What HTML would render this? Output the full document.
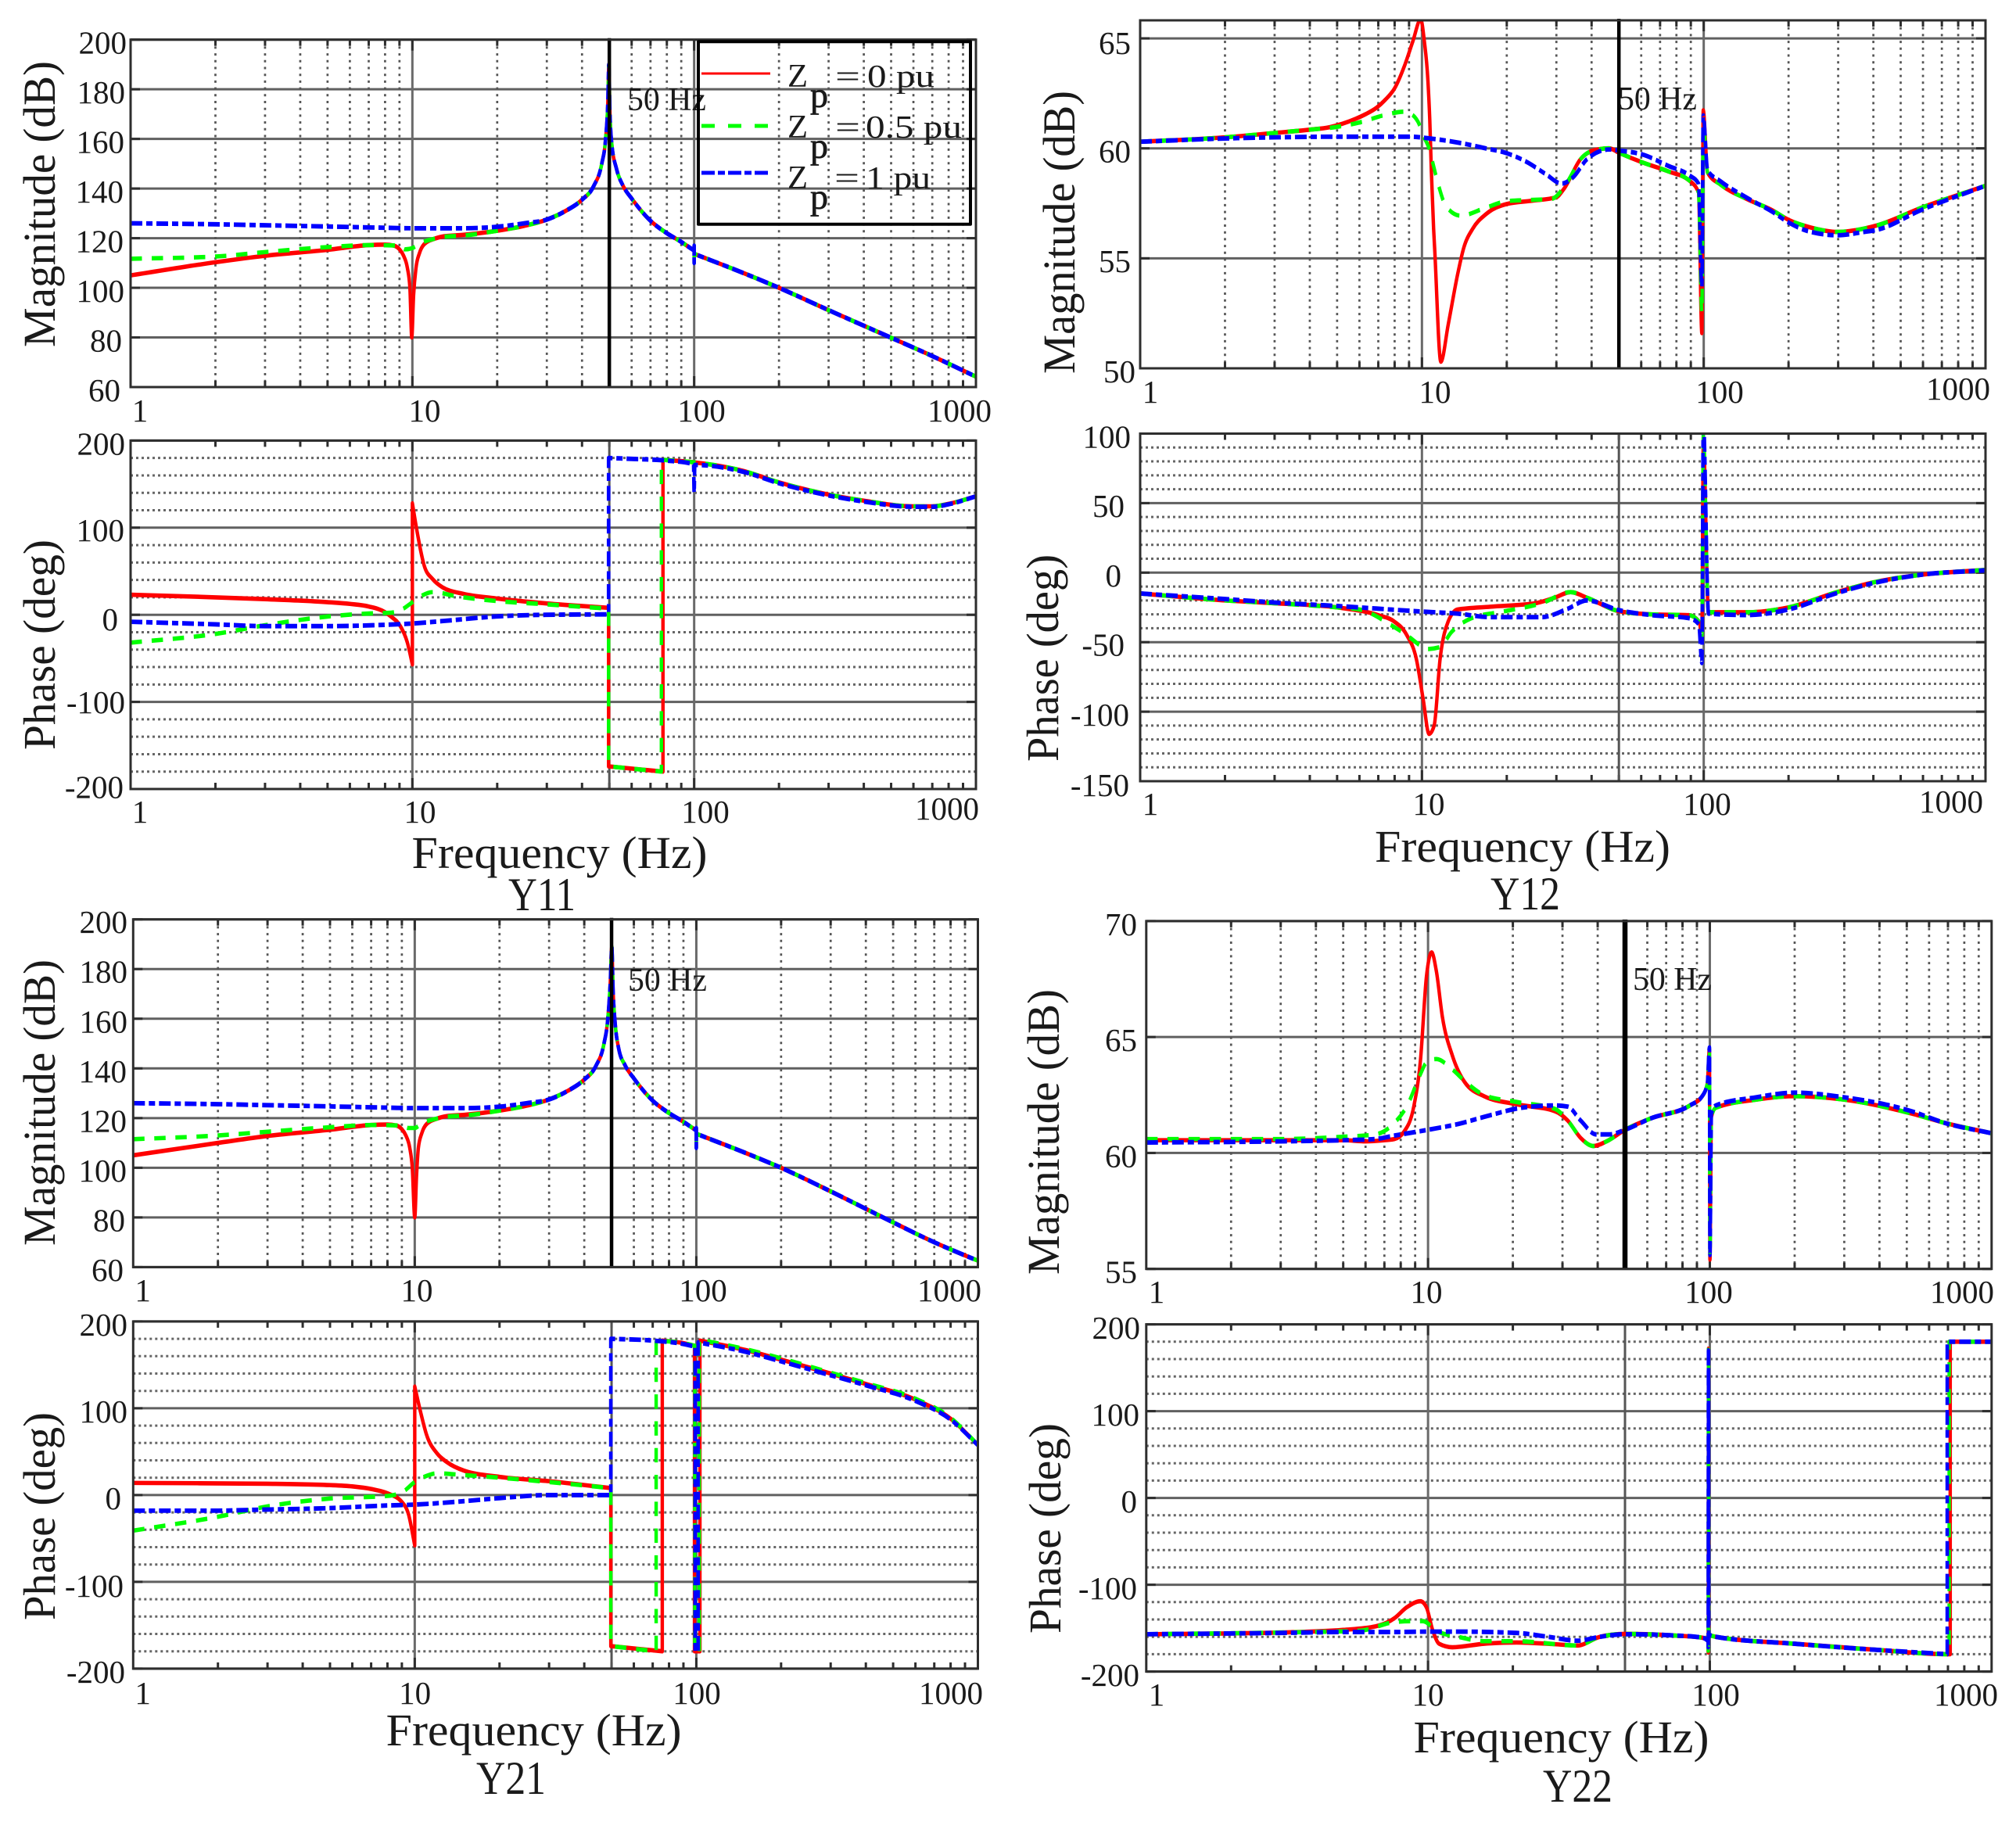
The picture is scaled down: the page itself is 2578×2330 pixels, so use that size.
<!DOCTYPE html>
<html>
<head>
<meta charset="utf-8">
<title>Admittance Bode plots</title>
<style>
html,body{margin:0;padding:0;background:#fff;}
#chart{display:block;width:2578px;height:2330px;}
text{font-family:"Liberation Serif",serif;fill:#1a1a1a;}
</style>
</head>
<body>
<svg id="chart" xmlns="http://www.w3.org/2000/svg" width="2578" height="2330" viewBox="0 0 2578 2330"></svg>
<script>
// ---------- Y11 magnitude ----------
const y11MagTailF=[20,25,30,35,40,44,47,48.5,49.4,49.8,50.2,51,53,56,60,70,80,90,97,100,100,100,100,150,200,300,486,700,1000];
const y11MagTailV=[123,125,127.5,131,135.5,141,150,160,175,190,172,158,148,141,136,127,122,118.5,116,115,110,117,113.7,105.9,100,91,80.5,72.5,64.2];
const y11MagRedF=[1,2,3,5,7,8,8.6,9,9.3,9.6,9.8,9.95,10.1,10.3,10.6,11,12,13,15].concat(y11MagTailF);
const y11MagRedV=[105,110.3,112.9,115.3,117.2,117.4,117,115.5,113,108,100,80,97,108,114,117.5,119.8,120.8,121.3].concat(y11MagTailV);
const y11MagGreenF=[1,2,3,5,7,9,9.4,10,10.5,11,12,13,15].concat(y11MagTailF);
const y11MagGreenV=[111.7,112.6,114.4,116.4,117.2,117,115.5,116,117.5,118.6,119.8,120.6,121].concat(y11MagTailV);
const y11MagBlueF=[1,2,3,5,8,10,15,20,25].concat(y11MagTailF.slice(2));
const y11MagBlueV=[126,125.6,125.2,124.7,124.2,124,124,124.6,126].concat(y11MagTailV.slice(2));
// ---------- Y11 phase ----------
const y11PhaseTailF=[100,150,200,300,400,600,700,817,1000];
const y11PhaseTailV=[175,165,152,138,131,124.5,124.5,128,136];
const y11PhaseRedF=[1,3,5,6,7,8,8.4,9.1,9.6,10,10,10.36,11.05,11.8,12.8,15.2,19.6,30,49.7,49.7,77.5,77.5].concat(y11PhaseTailF);
const y11PhaseRedV=[23,18,14.5,12.5,9.5,3,-2,-14,-32,-57,128,98,55,41,31.5,24,19,13,8,-174,-180,178].concat(y11PhaseTailV);
const y11PhaseGreenF=[1,2,3,5,7,8.4,9.1,10,10.8,11.8,14.5,19.6,30,49.7,49.7,76.5,76.5].concat(y11PhaseTailF);
const y11PhaseGreenV=[-32,-22,-12,-2,1.5,2.4,5.4,14.4,22,26,21,16,12,7,-174,-180,178].concat(y11PhaseTailV);
const y11PhaseBlueF=[1,2,3,5,8,10,13,19.6,30,49.7,49.7,60,80,99.5,100,100.5,150,200,300,400,600,700,817,1000];
const y11PhaseBlueV=[-8,-11,-13,-13,-11.5,-10,-7,-2,0,0.5,180,179,177,173,140,172,164,151,137,130,124,124,127.5,136];
// ---------- Y12 magnitude ----------
const y12MagTailF=[50,60.6,75,89,95.8,98.5,99.6,103.2,114.8,142,176,200,240,299,370,413,592,1000];
const y12MagRedF=[1,2,3,4,4.69,5.81,6.3,6.89,7.4,8,8.7,9.28,9.9,10.2,10.5,10.66,10.8,11,11.1,11.67,12.4,13.4,14.06,15.15,16.85,20,24.7,29.9,32,36.5,40.5,46.2].concat(y12MagTailF);
const y12MagRedV=[60.3,60.5,60.7,60.85,60.96,61.34,61.55,61.84,62.2,62.73,63.8,64.86,65.86,64.86,63.08,61.3,58.95,56.35,55.4,50.3,52,54.3,55.46,56.35,57,57.47,57.62,57.77,58.18,59.5,59.9,60,59.8,59.36,58.95,58.53,58,51.6,61.73,58.9,58.35,57.7,57.17,56.75,56.4,56.2,56.35,56.5,57.3,58.3];
const y12MagGreenF=[1,2,3,4,4.9,6.1,7.3,8.7,9.2,9.8,10.1,10.66,10.9,11.35,12.2,13.7,16.85,20,23.7,28.8,32.9,36.5,40.5,46.2].concat(y12MagTailF);
const y12MagGreenV=[60.3,60.5,60.7,60.85,60.96,61.2,61.5,61.67,61.55,61.07,60.6,59.9,59.4,58.5,57.35,56.94,57.3,57.6,57.65,57.7,58.5,59.5,59.9,60,59.8,59.36,58.95,58.53,58,52.5,61.1,58.9,58.35,57.7,57.17,56.75,56.4,56.2,56.35,56.5,57.3,58.3];
const y12MagBlueF=[1,2,3,5,9,11,13.6,16.85,20,23.7,27.5,31.3,34.5,38.5,46.2].concat(y12MagTailF);
const y12MagBlueV=[60.3,60.45,60.5,60.53,60.53,60.43,60.25,60,59.78,59.36,58.83,58.4,58.7,59.5,59.95,59.9,59.72,59.2,58.77,58.4,53.7,61.5,59,58.5,57.76,57.1,56.63,56.2,56.05,56.2,56.3,57.2,58.3];
// ---------- Y12 phase ----------
const y12PhaseRedF=[1,2,3,5,7,7.95,8.84,9.55,10.1,10.6,11.05,11.6,12.4,13.4,17.5,25.3,29.6,33.7,38.5,50,65,88.5,96,98.5,99.7,104,142,200,297,400,592,1000];
const y12PhaseRedV=[-15,-20,-22,-25,-30.6,-35,-45,-62,-91,-116,-110,-62,-35,-26.5,-24.5,-22,-18,-14,-18,-27.7,-30,-30.6,-35,-42,95,-28.5,-28.5,-25,-14,-7,-1.5,2];
const y12PhaseGreenF=[1,2,3,5,6,7.95,8.84,9.8,10.35,11.6,12.7,14.9,19.4,26.6,33.7,38.5,50,65,88.5,96,98.5,99.7,104,142,200,297,400,592,1000];
const y12PhaseGreenV=[-15,-20,-22,-25,-26.5,-39,-45,-52,-55,-53.5,-43,-33,-28,-22,-14,-18,-27.7,-30,-30.6,-35,-45,100,-28.5,-28.5,-25,-14,-7,-1.5,2];
const y12PhaseBlueF=[1,2,3,5,10,13.4,17.5,26.6,32.9,38.5,50,65,88.5,96,98.5,99.7,104,142,200,297,400,592,1000];
const y12PhaseBlueV=[-15,-19,-21.5,-24,-28,-29.5,-32,-32,-26,-20,-27,-30.5,-32.7,-37,-65,110,-29.5,-30.5,-26.5,-14.7,-7.5,-1.5,1.7];
// ---------- Y21 magnitude ----------
const y21MagTailF=[20,25,30,35,40,44,47,48.5,49.5,50.1,50.6,51.5,53,56,60,70,80,90,97,100,100,100,100,150,200,300,500,700,900,1000];
const y21MagTailV=[123,125,127.5,131,135.5,141,150,160,175,189,172,158,148,141,136,127,122,118.5,116,115,108,116,113.7,105.9,100,90.5,78,70,64.7,62.6];
const y21MagRedF=[1,2,3,5,7,8,8.6,9,9.3,9.6,9.8,10,10.15,10.3,10.6,11,12,13,15].concat(y21MagTailF);
const y21MagRedV=[105,110,112.8,115.3,117.2,117.4,117,115.5,113,108,100,80,97,108,114,117.5,119.8,120.8,121.3].concat(y21MagTailV);
const y21MagGreenF=[1,2,3,5,7,9,9.5,10,10.5,11,12,13,15].concat(y21MagTailF);
const y21MagGreenV=[111.5,113,114.5,116.3,117.2,117,116,116,117.5,118.6,119.8,120.6,121].concat(y21MagTailV);
const y21MagBlueF=[1,2,3,5,8,10,15,20,25].concat(y21MagTailF.slice(2));
const y21MagBlueV=[126,125.6,125.2,124.7,124.2,124,124,124.6,126].concat(y21MagTailV.slice(2));
// ---------- Y21 phase ----------
const y21PhaseRedF=[1,3,5,6,7,8,9,9.5,10,10,10.5,11,12,13,15,20,30,49.7,49.7,75.7,75.7,90,98.5,98.5,103,103,150,200,300,400,600,800,1000];
const y21PhaseRedV=[14,13,11.5,10,7,2,-8,-22,-58,125,95,70,48,38,28,21,16,8,-174,-180,178,175,172,-180,-180,178,167,156,140,128,110,88,58];
const y21PhaseGreenF=[1,2,3,5,8,9,10,11,12,15,20,30,49.7,49.7,72,72,90,98.7,98.7,102.5,102.5,150,200,300,400,600,800,1000];
const y21PhaseGreenV=[-41,-25,-13,-4,-1,3,15,22,25,23,20,15,8,-174,-180,178,175,172,-180,-180,179,168,157.5,141,129,111,89,58];
const y21PhaseBlueF=[1,2,2.7,5,8,10,15,20,30,49.7,49.7,70,90,99,99,101.5,101.5,150,200,300,400,600,800,1000];
const y21PhaseBlueV=[-18,-18,-17,-15,-12,-11,-7,-3.5,0,0,180,178,174,171,-180,-180,176,165,154,138,126.5,108.5,87,57.5];
// ---------- Y22 magnitude ----------
const y22MagTailF=[50,62,85,94,98,99.7,100.1,101.3,105,146,200,300,520,680,1000];
const y22MagRedF=[1,3,5,6,7,7.6,8.2,8.9,9.4,9.87,10.3,10.7,11.25,12.2,13.5,15.8,20.6,28.2,31.3,34.8,38.6,43].concat(y22MagTailF);
const y22MagRedV=[60.55,60.55,60.55,60.5,60.55,60.6,60.9,62,64,67.6,68.65,67.85,65.85,64.2,63.05,62.45,62.1,61.8,61.4,60.65,60.3,60.5,61,61.5,62.05,62.45,63,64.5,55.4,61.55,61.95,62.3,62.45,62.3,61.7,61.3,60.85];
const y22MagGreenF=[1,3,5,6.5,7.6,8.4,9.4,9.87,10.7,12.2,13.5,15.8,20.6,28.2,31.3,34.8,38.6,43].concat(y22MagTailF);
const y22MagGreenV=[60.6,60.6,60.7,60.8,61.3,62,63.4,63.9,64.05,63.6,63.1,62.5,62.2,61.9,61.4,60.65,60.3,60.5,61,61.5,62.05,62.45,63,64.5,55.5,61.55,61.95,62.3,62.45,62.3,61.7,61.3,60.85];
const y22MagBlueF=[1,3,5,6.5,7.6,10,12.8,16.3,21.5,28.2,31.3,34.8,39.5,44].concat(y22MagTailF);
const y22MagBlueV=[60.45,60.5,60.55,60.6,60.75,61,61.25,61.6,61.95,62.05,62,61.4,60.8,60.8,61,61.5,62.05,62.45,63,64.55,55.6,61.7,62.05,62.4,62.6,62.4,61.8,61.3,60.85];
// ---------- Y22 phase ----------
const y22PhaseRedF=[1,3,5,6.5,7.6,8.4,9.4,9.87,10.4,10.95,12.2,15.8,20.6,28.2,33.9,40.7,50,76,94,98.5,98.7,98.9,99.1,105,200,390,696,713,713,1000];
const y22PhaseRedV=[-157,-155,-152,-148,-138.5,-126,-119,-126,-153,-168,-172,-168,-166.5,-168.5,-170,-160,-156.6,-158.6,-161,-165,-178,172,-157,-160,-168,-175,-180,-180,180,180];
const y22PhaseGreenF=[1,3,5.7,7.6,8.65,9.6,10.7,12.8,15.8,20.6,33.9,40.7,50,76,94,98.5,98.7,98.9,99.1,105,200,390,696,707,707,1000];
const y22PhaseGreenV=[-157,-155,-153,-143,-142,-142,-153,-160,-165,-165,-170,-160,-156.6,-158.6,-161,-165,-176,173,-157,-160,-168,-175,-180,-180,180,180];
const y22PhaseBlueF=[1,3,5,7.6,10,12.8,20.6,26.7,33.9,40.7,50,76,94,98.5,98.7,98.9,99.1,105,200,390,696,696,1000];
const y22PhaseBlueV=[-157,-155.5,-154.5,-154.5,-154,-154,-155.5,-160,-164.5,-160,-157,-158.5,-161,-165,-172,170,-157,-160,-168,-175,-180,180,180];
// ---------- Tick labels ----------
const xTickLabels=['1','10','100','1000'];
const wideMagTicks=[200,180,160,140,120,100,80,60];
const y12MagTicks=[65,60,55,50];
const y22MagTicks=[70,65,60,55];
const widePhaseTicks=[200,100,0,-100,-200];
const y12PhaseTicks=[100,50,0,-50,-100,-150];

// ---------- Layout ----------
const GREY='#606060', DARK='#2e2e2e';
// The source image is stretched vertically; curves are drawn in a scaled space so stroke and dash follow it.
const STRETCH=1.27;
const axesList=[
 {id:'y11-mag',kind:'mag',L:167,R:1248,T:50.7,B:495,yMax:200,yMin:60,ticks:wideMagTicks,
  red:[y11MagRedF,y11MagRedV],green:[y11MagGreenF,y11MagGreenV],blue:[y11MagBlueF,y11MagBlueV],
  yRight:[162,160,159,158,158,159,156,154],yDy:[18,18,18,18,18,18,18,18],
  xC:[179,543,897,1227],xBase:[539,539,539,539],line50:4.5},
 {id:'y11-phase',kind:'phase',L:167,R:1248,T:563.4,B:1009,yMax:200,yMin:-200,ticks:widePhaseTicks,minor:20,
  red:[y11PhaseRedF,y11PhaseRedV],green:[y11PhaseGreenF,y11PhaseGreenV],blue:[y11PhaseBlueF,y11PhaseBlueV],
  yRight:[160,159,151,160,158],yDy:[18,17,20,14.5,11.5],
  xC:[179,537,902,1211],xBase:[1052,1052,1052,1048]},
 {id:'y12-mag',kind:'mag',L:1458,R:2539,T:26,B:471,yMax:65.82,yMin:50,ticks:y12MagTicks,
  red:[y12MagRedF,y12MagRedV],green:[y12MagGreenF,y12MagGreenV],blue:[y12MagBlueF,y12MagBlueV],
  yRight:[1446,1446,1446,1452],yDy:[20,18,17.5,18],
  xC:[1471,1835,2199,2504],xBase:[515,515,515,511],line50:4.5},
 {id:'y12-phase',kind:'phase',L:1458,R:2539,T:554.5,B:999,yMax:100,yMin:-150,ticks:y12PhaseTicks,minor:10,
  red:[y12PhaseRedF,y12PhaseRedV],green:[y12PhaseGreenF,y12PhaseGreenV],blue:[y12PhaseBlueF,y12PhaseBlueV],
  yRight:[1446,1438,1434,1438,1444,1444],yDy:[18,17.5,17.5,17.5,18,19],
  xC:[1471,1827,2183,2495],xBase:[1042,1042,1042,1039]},
 {id:'y21-mag',kind:'mag',L:170.3,R:1250.5,T:1175.7,B:1620.4,yMax:200,yMin:60,ticks:wideMagTicks,
  red:[y21MagRedF,y21MagRedV],green:[y21MagGreenF,y21MagGreenV],blue:[y21MagBlueF,y21MagBlueV],
  yRight:[163,163,163,162,162,162,160,158],yDy:[17.5,17.5,17.5,17.5,17.5,17.5,17.5,17.5],
  xC:[182.6,533,899,1214],xBase:[1664,1664,1664,1664],line50:4.5},
 {id:'y21-phase',kind:'phase',L:170.3,R:1250.5,T:1689.9,B:2133.9,yMax:200,yMin:-200,ticks:widePhaseTicks,minor:20,
  red:[y21PhaseRedF,y21PhaseRedV],green:[y21PhaseGreenF,y21PhaseGreenV],blue:[y21PhaseBlueF,y21PhaseBlueV],
  yRight:[163,163,155,158,160],yDy:[18,18,18,19,18],
  xC:[182.6,530.6,891,1216],xBase:[2179,2179,2179,2179]},
 {id:'y22-mag',kind:'mag',L:1465.8,R:2546.8,T:1177.9,B:1622.7,yMax:70,yMin:55,ticks:y22MagTicks,
  red:[y22MagRedF,y22MagRedV],green:[y22MagGreenF,y22MagGreenV],blue:[y22MagBlueF,y22MagBlueV],
  yRight:[1454,1454,1454,1454],yDy:[18,18,18,18],
  xC:[1479,1824,2185,2509],xBase:[1666,1666,1666,1666],line50:6.5},
 {id:'y22-phase',kind:'phase',L:1465.8,R:2546.8,T:1693.6,B:2137.6,yMax:200,yMin:-200,ticks:widePhaseTicks,minor:20,
  red:[y22PhaseRedF,y22PhaseRedV],green:[y22PhaseGreenF,y22PhaseGreenV],blue:[y22PhaseBlueF,y22PhaseBlueV],
  yRight:[1458,1457,1454,1454,1457],yDy:[18.5,18.5,18.5,18.5,18.5],
  xC:[1479,1826,2194,2514],xBase:[2181,2181,2181,2181]}
];
const titles=[
 {t:'Magnitude (dB)',rot:true,x:70,y:444,len:366},{t:'Phase (deg)',rot:true,x:70,y:959,len:269},
 {t:'Frequency (Hz)',x:526.5,y:1110,len:378},{t:'Y11',x:650,y:1164,len:86},
 {t:'Magnitude (dB)',rot:true,x:1374,y:478,len:362},{t:'Phase (deg)',rot:true,x:1353,y:974,len:265},
 {t:'Frequency (Hz)',x:1758,y:1102,len:378},{t:'Y12',x:1906,y:1163,len:89},
 {t:'Magnitude (dB)',rot:true,x:70,y:1593,len:366},{t:'Phase (deg)',rot:true,x:70,y:2072,len:266},
 {t:'Frequency (Hz)',x:493.6,y:2232,len:378},{t:'Y21',x:609,y:2294,len:89},
 {t:'Magnitude (dB)',rot:true,x:1354,y:1630,len:365},{t:'Phase (deg)',rot:true,x:1356,y:2089,len:269},
 {t:'Frequency (Hz)',x:1807.5,y:2241,len:378},{t:'Y22',x:1973,y:2304,len:89}
];
const hzLabels=[{x:802,y:141,id:'y11'},{x:2069,y:140,id:'y12'},{x:803,y:1267,id:'y21'},{x:2088,y:1266,id:'y22'}];

// ---------- Drawing helpers ----------
const svg=document.getElementById('chart');
const NS='http://www.w3.org/2000/svg';
function mk(parent,tag,name){
  const el=document.createElementNS(NS,tag);
  
  
  parent.appendChild(el);
  return el;
}
function line(parent,name,x1,y1,x2,y2,stroke,w,dash){
  const el=mk(parent,'line',name);
  el.setAttribute('x1',x1);el.setAttribute('y1',y1);el.setAttribute('x2',x2);el.setAttribute('y2',y2);
  el.setAttribute('stroke',stroke);el.setAttribute('stroke-width',w);
  if(dash)el.setAttribute('stroke-dasharray',dash);
  return el;
}
function text(parent,name,str,x,y,size,anchor,len){
  const el=mk(parent,'text',name);
  el.setAttribute('x',x);el.setAttribute('y',y);el.setAttribute('font-size',size);
  if(anchor)el.setAttribute('text-anchor',anchor);
  if(len){el.setAttribute('textLength',len);el.setAttribute('lengthAdjust','spacingAndGlyphs');}
  el.textContent=str;
  return el;
}
// Monotone cubic path through pixel points; repeated x values become vertical jumps.
function monotonePath(px,py){
  let d='M'+px[0].toFixed(2)+' '+py[0].toFixed(2);
  let s=0;
  const n=px.length;
  while(s<n-1){
    let e=s;
    while(e<n-1 && px[e+1]-px[e]>1e-6)e++;
    if(e===s){ d+='L'+px[s+1].toFixed(2)+' '+py[s+1].toFixed(2); s++; continue; }
    const slopes=[];
    for(let i=s;i<e;i++)slopes.push((py[i+1]-py[i])/(px[i+1]-px[i]));
    const m=[];
    for(let i=s;i<=e;i++){
      const k=i-s;
      if(k===0)m.push(slopes[0]);
      else if(i===e)m.push(slopes[k-1]);
      else{
        const a=slopes[k-1],b=slopes[k];
        const h0=px[i]-px[i-1],h1=px[i+1]-px[i];
        const p=(a*h1+b*h0)/(h0+h1);
        m.push(a*b<=0?0:(Math.sign(a)+Math.sign(b))*Math.min(Math.abs(a),Math.abs(b),0.5*Math.abs(p)));
      }
    }
    for(let i=s;i<e;i++){
      const k=i-s,h=(px[i+1]-px[i])/3;
      d+='C'+(px[i]+h).toFixed(2)+' '+(py[i]+m[k]*h).toFixed(2)+' '+(px[i+1]-h).toFixed(2)+' '+(py[i+1]-m[k+1]*h).toFixed(2)+' '+px[i+1].toFixed(2)+' '+py[i+1].toFixed(2);
    }
    s=e;
  }
  return d;
}

const defs=mk(svg,'defs','clip-definitions');
axesList.forEach(function(ax){
  const g=mk(svg,'g',ax.id+'-axes');
  const xOf=function(f){return ax.L+Math.log10(f)*(ax.R-ax.L)/3;};
  const yOf=function(v){return ax.T+(ax.yMax-v)/(ax.yMax-ax.yMin)*(ax.B-ax.T);};
  const clip=mk(defs,'clipPath',ax.id+'-clip');
  clip.setAttribute('id',ax.id+'-clip');
  const cr=mk(clip,'rect',ax.id+'-clip-rect');
  cr.setAttribute('x',ax.L);cr.setAttribute('y',ax.T);
  cr.setAttribute('width',ax.R-ax.L+3);cr.setAttribute('height',ax.B-ax.T);

  // horizontal grid
  if(ax.minor){
    const step=ax.minor;
    const majorStep=Math.abs(ax.ticks[0]-ax.ticks[1]);
    for(let v=ax.yMin+step;v<ax.yMax;v+=step){
      if(v%majorStep===0)continue;
      line(g,ax.id+'-minor-gridline',ax.L,yOf(v),ax.R,yOf(v),'#666',3,'3 4');
    }
  }
  ax.ticks.forEach(function(v){
    line(g,ax.id+'-major-gridline',ax.L,yOf(v),ax.R,yOf(v),GREY,3);
  });
  // vertical grid and ticks
  [1,10,100].forEach(function(dec){
    for(let k=2;k<=9;k++){
      const x=xOf(dec*k);
      if(ax.kind==='mag')line(g,ax.id+'-minor-x-gridline',x,ax.T,x,ax.B,'#555',2.7,'3 5.7');
      line(g,ax.id+'-x-tick',x,ax.B,x,ax.B-8,DARK,3);
      line(g,ax.id+'-x-tick',x,ax.T,x,ax.T+8,DARK,3);
    }
  });
  [10,100].forEach(function(f){
    line(g,ax.id+'-decade-gridline',xOf(f),ax.T,xOf(f),ax.B,'#6a6a6a',3);
    line(g,ax.id+'-decade-tick',xOf(f),ax.B,xOf(f),ax.B-14,DARK,3);
    line(g,ax.id+'-decade-tick',xOf(f),ax.T,xOf(f),ax.T+14,DARK,3);
  });
  if(ax.kind==='phase')line(g,ax.id+'-50hz-line',xOf(50),ax.T,xOf(50),ax.B,'#555',3);
  ax.ticks.forEach(function(v){
    line(g,ax.id+'-y-tick',ax.L,yOf(v),ax.L+12,yOf(v),DARK,3);
    line(g,ax.id+'-y-tick',ax.R,yOf(v),ax.R-12,yOf(v),DARK,3);
  });

  // series
  const styles=[['red','#ff0000',4.4,null],['green','#00ff00',4.4,'14.5 12.5'],['blue','#0000ff',4.6,'15 5 8 5']];
  const cg=mk(g,'g',ax.id+'-series');
  cg.setAttribute('clip-path','url(#'+ax.id+'-clip)');
  const sg=mk(cg,'g',ax.id+'-series-scaled');
  sg.setAttribute('transform','scale(1 '+STRETCH+')');
  styles.forEach(function(st){
    const fs=ax[st[0]][0], vs=ax[st[0]][1];
    const path=mk(sg,'path',ax.id+'-'+st[0]+'-curve');
    path.setAttribute('d',monotonePath(fs.map(xOf),vs.map(function(v){return yOf(v)/STRETCH;})));
    path.setAttribute('fill','none');
    path.setAttribute('stroke',st[1]);
    path.setAttribute('stroke-width',st[2]);
    path.setAttribute('stroke-linejoin','round');
    if(st[3])path.setAttribute('stroke-dasharray',st[3]);
  });

  if(ax.kind==='mag')line(g,ax.id+'-50hz-marker',xOf(50),ax.T-2,xOf(50),ax.B,'#000',ax.line50);

  // frame
  const fr=mk(g,'rect',ax.id+'-frame');
  fr.setAttribute('x',ax.L);fr.setAttribute('y',ax.T);
  fr.setAttribute('width',ax.R-ax.L);fr.setAttribute('height',ax.B-ax.T);
  fr.setAttribute('fill','none');fr.setAttribute('stroke',DARK);fr.setAttribute('stroke-width',3);

  // tick labels
  ax.ticks.forEach(function(v,i){
    text(g,ax.id+'-y-tick-label',String(v),ax.yRight[i],yOf(v)+ax.yDy[i],41,'end');
  });
  xTickLabels.forEach(function(lab,i){
    text(g,ax.id+'-x-tick-label',lab,ax.xC[i],ax.xBase[i],41,'middle');
  });
});

titles.forEach(function(o){
  const name=o.t.indexOf('Mag')===0?'magnitude-axis-title':o.t.indexOf('Phase')===0?'phase-axis-title':o.t.indexOf('Freq')===0?'frequency-axis-title':'subplot-title-'+o.t.toLowerCase();
  const el=text(svg,name,o.t,o.x,o.y,o.t[0]==='Y'?60:58,'start',o.len);
  if(o.rot)el.setAttribute('transform','rotate(-90 '+o.x+' '+o.y+')');
});
hzLabels.forEach(function(o){
  text(svg,o.id+'-50hz-label','50 Hz',o.x,o.y,42,'start',101);
});

// ---------- Legend ----------
const legend=mk(svg,'g','legend');
const box=mk(legend,'rect','legend-box');
box.setAttribute('x',893);box.setAttribute('y',53.3);box.setAttribute('width',348);box.setAttribute('height',233.4);
box.setAttribute('fill','none');box.setAttribute('stroke','#000');box.setAttribute('stroke-width',4);box.setAttribute('stroke-linejoin','round');
line(legend,'legend-line-red',897,94,985,94,'#ff0000',3);
line(legend,'legend-line-green',897,161,985,161,'#00ff00',5,'17 17');
line(legend,'legend-line-blue',897,221,985,221,'#0000ff',5,'17 4 9 4');
const legendRows=[
 {base:111,sub:137,label:'0 pu',eqX:1068,x:1109,len:86},
 {base:176,sub:202,label:'0.5 pu',eqX:1068,x:1107,len:123},
 {base:241,sub:267,label:'1 pu',eqX:1067,x:1107,len:83}
];
legendRows.forEach(function(r){
  text(legend,'legend-z-symbol','Z',1007,r.base,42,'start',26);
  const p=text(legend,'legend-p-subscript','p',1036,r.sub,45,'start',23);
  p.setAttribute('stroke','#1a1a1a');
  p.setAttribute('stroke-width','0.7');
  text(legend,'legend-equals','=',r.eqX,r.base,40,'start',32);
  text(legend,'legend-label',r.label,r.x,r.base,41,'start',r.len);
});
</script>
</body>
</html>
